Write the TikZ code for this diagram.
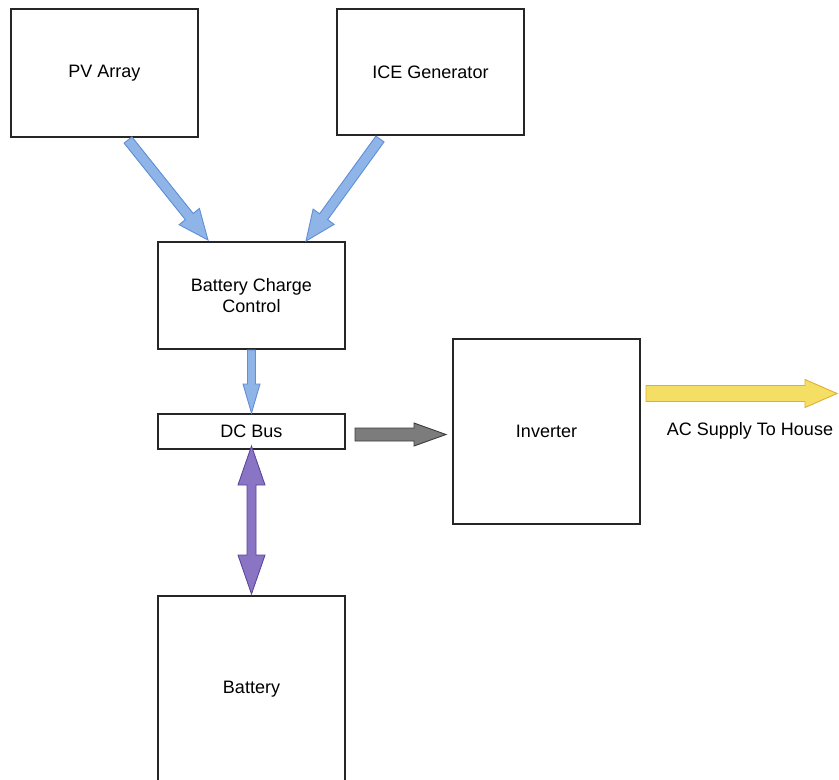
\documentclass[tikz,border=0pt]{standalone}
\usepackage{fontspec}
\setmainfont{Liberation Sans}
\usetikzlibrary{calc}
\definecolor{bluefill}{HTML}{8FB4E8}
\definecolor{blueline}{HTML}{5F8FD6}
\definecolor{grayfill}{HTML}{7C7C7C}
\definecolor{grayline}{HTML}{3C3C3C}
\definecolor{yelfill}{HTML}{F5DE64}
\definecolor{yelline}{HTML}{DFAE32}
\definecolor{purfill}{HTML}{8A74C4}
\definecolor{purline}{HTML}{5E469E}
\newcommand\blockarrow[6]{%
  \coordinate (ba-h) at ($(#2)!#5!(#1)$);
  \filldraw[#6] ($(#1)!#3!90:(#2)$) -- ($(ba-h)!#3!90:(#2)$) -- ($(ba-h)!#4!90:(#2)$) -- (#2)
    -- ($(ba-h)!#4!-90:(#2)$) -- ($(ba-h)!#3!-90:(#2)$) -- ($(#1)!#3!-90:(#2)$) -- cycle;}
\newcommand\dblockarrow[6]{%
  \coordinate (da-a) at ($(#1)!#5!(#2)$);
  \coordinate (da-b) at ($(#2)!#5!(#1)$);
  \filldraw[#6] (#1) -- ($(da-a)!#4!90:(#2)$) -- ($(da-a)!#3!90:(#2)$) -- ($(da-b)!#3!90:(#2)$)
    -- ($(da-b)!#4!90:(#2)$) -- (#2) -- ($(da-b)!#4!-90:(#2)$) -- ($(da-b)!#3!-90:(#2)$)
    -- ($(da-a)!#3!-90:(#2)$) -- ($(da-a)!#4!-90:(#2)$) -- cycle;}
\begin{document}
\begin{tikzpicture}[x=1pt,y=-1pt,
  box/.style={draw=black!85,line width=1.1pt,fill=white,inner sep=0pt,outer sep=0pt,
    align=center,font=\fontsize{18}{21}\selectfont},
  label/.style={inner sep=0pt,font=\fontsize{18}{21}\selectfont},
  bluearr/.style={fill=bluefill,draw=blueline,line width=0.9pt,line join=miter},
  grayarr/.style={fill=grayfill,draw=grayline,line width=0.9pt,line join=miter},
  yelarr/.style={fill=yelfill,draw=yelline,line width=0.9pt,line join=miter},
  purarr/.style={fill=purfill,draw=purline,line width=0.9pt,line join=miter}]
\useasboundingbox (0,0) rectangle (839,780);
\fill[white] (0,0) rectangle (839,780);
\node[box,minimum width=187pt,minimum height=128pt] (pv) at (104.5,73) {PV Array};
\node[box,minimum width=187pt,minimum height=126pt] (ice) at (430.5,72) {ICE Generator};
\node[box,minimum width=187pt,minimum height=107pt] (bcc) at (251.5,295.5) {Battery Charge\\Control};
\node[box,minimum width=187pt,minimum height=35pt] (dcb) at (251.5,431.5) {DC Bus};
\node[box,minimum width=187pt,minimum height=185pt] (inv) at (546.5,431.5) {Inverter};
\node[box,minimum width=187pt,minimum height=190pt] (bat) at (251.5,691) {};
\node[label] (batl) at (251.5,689) {Battery};
\node[label] (acl) at (750,431) {AC Supply To House};
% connector end points
\coordinate (pvs) at ($(pv.south)+(23.5,3)$);
\coordinate (bccl) at ($(bcc.north)+(-43.5,-2)$);
\coordinate (ices) at ($(ice.south)+(-50.5,4)$);
\coordinate (bccr) at ($(bcc.north)+(54.5,-1)$);
\coordinate (bccb) at ($(bcc.south)+(0,1)$);
\coordinate (dcbt) at ($(dcb.north)+(0,-1)$);
\coordinate (dcbr) at ($(dcb.east)+(10,3)$);
\coordinate (invl) at ($(inv.west)+(-7,3)$);
\coordinate (dcbb) at ($(dcb.south)+(0,-3)$);
\coordinate (batt) at ($(bat.north)+(0,-2)$);
\coordinate (invr) at ($(inv.east)+(6,-38)$);
\coordinate (ace) at ($(inv.east)+(197,-38)$);
% arrows
\blockarrow{pvs}{bccl}{5pt}{13pt}{30pt}{bluearr}
\blockarrow{ices}{bccr}{5pt}{13pt}{30pt}{bluearr}
\blockarrow{bccb}{dcbt}{4pt}{8.5pt}{29pt}{bluearr}
\blockarrow{dcbr}{invl}{6.5pt}{11.5pt}{32pt}{grayarr}
\blockarrow{invr}{ace}{8pt}{14pt}{32pt}{yelarr}
\dblockarrow{dcbb}{batt}{4.5pt}{13.5pt}{39pt}{purarr}
\end{tikzpicture}
\end{document}
